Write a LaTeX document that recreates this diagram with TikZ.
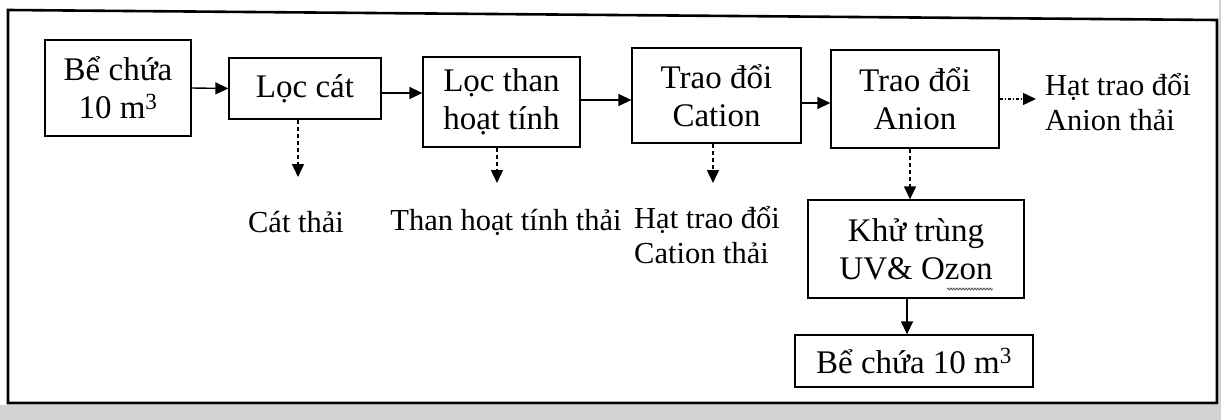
\documentclass[tikz,border=0pt]{standalone}
\usepackage{fontspec}
\setmainfont{Liberation Serif}
\usetikzlibrary{arrows.meta,decorations.pathmorphing}
\begin{document}
\begin{tikzpicture}[x=1pt,y=-1pt,
  every node/.style={font=\fontsize{33}{38}\selectfont, inner sep=0pt},
  box/.style={draw, line width=1.3pt, align=center},
  lbl/.style={align=left, font=\fontsize{30.5}{35}\selectfont},
  arr/.style={line width=1.4pt, -{Triangle[length=13pt,width=12pt]}},
  darr/.style={line width=1.4pt, dash pattern=on 4pt off 3pt, -{Triangle[length=13pt,width=12pt]}}]
\useasboundingbox (0,0) rectangle (1221,420);
% scan margin strips
\fill[gray!35] (0,405) rectangle (1221,420);
\fill[gray!35] (1219,0) rectangle (1221,420);
% outer frame
\draw[line width=2.6pt] (8,10) -- (1217,20) -- (1217,403) -- (8,403) -- cycle;
% boxes
\node[box, minimum width=146pt, minimum height=96pt] (b1) at (118,88) {Bể chứa\\10 m\textsuperscript{3}};
\node[box, minimum width=152pt, minimum height=61pt] (b2) at (305,88.5) {Lọc cát};
\node[box, minimum width=157pt, minimum height=90pt] (b3) at (501.5,102) {Lọc than\\hoạt tính};
\node[box, minimum width=169pt, minimum height=95pt] (b4) at (716.5,95.5) {Trao đổi\\Cation};
\node[box, minimum width=168pt, minimum height=98pt] (b5) at (915,99) {Trao đổi\\Anion};
\node[box, minimum width=216pt, minimum height=98pt] (b6) at (916,249) {Khử trùng\\UV\& Ozon};
\node[box, minimum width=238pt, minimum height=52pt] (b7) at (914,361) {Bể chứa 10 m\textsuperscript{3}};
% labels
\node[lbl] (l2) at (296,222) {Cát thải};
\node[lbl] (l3) at (506,222) {Than hoạt tính thải};
\node[lbl, anchor=north west] (l4) at (634,206) {Hạt trao đổi\\Cation thải};
\node[lbl, anchor=west] (l5) at (1045,102) {Hạt trao đổi\\Anion thải};
% wavy spell-check underline
\draw[gray!70!black, line width=0.9pt, decorate, decoration={snake, amplitude=0.9pt, segment length=3pt}] (947,289) -- (993,289);
% main flow
\draw[arr] (b1.east) -- (b2.west);
\path (b2.east) ++(0,4.5) coordinate (a23);
\draw[arr] (a23) -- (a23 -| b3.west);
\path (b3.east) ++(0,-2) coordinate (a34);
\draw[arr] (a34) -- (a34 -| b4.west);
\path (b4.east) ++(0,7.5) coordinate (a45);
\draw[arr] (a45) -- (a45 -| b5.west);
% waste outlets
\coordinate (w2) at (298,177);
\coordinate (w3) at (497,183);
\coordinate (w4) at (713,183);
\coordinate (w5) at (1036,99);
\draw[darr] (w2 |- b2.south) -- (w2);
\draw[darr] (w3 |- b3.south) -- (w3);
\draw[darr] (w4 |- b4.south) -- (w4);
\draw[line width=1.4pt, dash pattern=on 3pt off 2pt on 1pt off 2pt, -{Triangle[length=13pt,width=12pt]}] (b5.east) -- (w5);
% to disinfection and storage
\coordinate (x56) at (910,0);
\draw[darr] (x56 |- b5.south) -- (x56 |- b6.north);
\coordinate (x67) at (907,0);
\draw[arr] (x67 |- b6.south) -- (x67 |- b7.north);
\end{tikzpicture}
\end{document}
